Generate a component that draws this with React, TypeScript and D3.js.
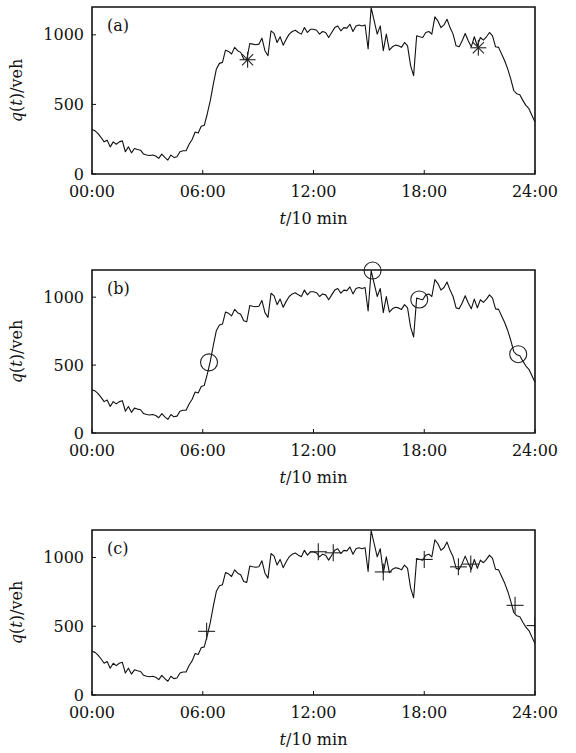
import * as d3 from "d3";

// traffic flow every 10 min (same series in all three panels)
const flow = [
  319, 310, 290, 262, 231, 243, 195, 231, 214, 231, 238, 160, 195, 152, 183, 176, 171, 143, 136,
  133, 136, 129, 112, 143, 119, 100, 136, 119, 124, 160, 167, 167, 214, 248, 302, 295, 343, 350, 433,
  529, 648, 755, 795, 802, 890, 881, 862, 910, 886,
  874, 826, 819, 938, 933, 929, 933, 976, 886, 850, 1029, 1010, 945, 986, 926, 969, 1005, 1024, 1033, 1017,
  1005, 1052, 1017, 1040, 1040, 1033, 1005, 1024, 1017, 981, 1017, 1052, 1064, 1029, 1052, 1048, 1076, 1024, 1064, 1071,
  1064, 1071, 898, 1195, 1100, 1005, 1064, 886, 1005, 890,
  914, 926, 921, 910, 945, 921, 779, 707, 993, 986, 981, 1017, 1024, 1005, 1129, 1100, 1052, 1071, 1112, 1052,
  1005, 921, 914, 957, 1010, 957, 914, 986, 921, 981, 962, 986, 1017, 993, 914, 910, 862, 814, 755, 683,
  600, 576, 569, 529, 493, 469, 421, 374,
];

const timeTicks = [0, 6, 12, 18, 24];
const flowTicks = [0, 500, 1000];

// marked points (hours, veh)
const starT = [8.43, 20.93];
const starV = [821, 907];
const circT = [6.34, 15.2, 17.73, 23.09];
const circV = [520, 1196, 983, 580];
const plusT = [6.21, 12.26, 13.07, 15.78, 18.0, 19.85, 20.52, 22.92, 24];
const plusV = [463, 1042, 1034, 895, 986, 932, 952, 652, 505];

const panelLabels = ["(a)", "(b)", "(c)"];

const W = 576;
const H = 753;
const left = 92;
const right = 535;
const tops = [7, 270, 530];
const heights = [167, 163, 165];
const font = "DejaVu Serif";
const fs = 16;

const fmtTime = (h: number) => d3.format("02d")(h) + ":00";

function Marker({ kind, cx, cy }: { kind: string; cx: number; cy: number }) {
  const s = { stroke: "#222", strokeWidth: 1.1, fill: "none" };
  if (kind === "circle") return <circle cx={cx} cy={cy} r={8.5} {...s} />;
  if (kind === "plus") {
    const r = 8.5;
    return (
      <g {...s}>
        <line x1={cx - r} x2={cx + r} y1={cy} y2={cy} />
        <line x1={cx} x2={cx} y1={cy - r} y2={cy + r} />
      </g>
    );
  }
  const r = 8;
  const d = r * 0.7;
  return (
    <g {...s}>
      <line x1={cx - r} x2={cx + r} y1={cy} y2={cy} />
      <line x1={cx} x2={cx} y1={cy - r} y2={cy + r} />
      <line x1={cx - d} x2={cx + d} y1={cy - d} y2={cy + d} />
      <line x1={cx - d} x2={cx + d} y1={cy + d} y2={cy - d} />
    </g>
  );
}

function Panel({ idx, kind, ts, vs }: { idx: number; kind: string; ts: number[]; vs: number[] }) {
  const top = tops[idx];
  const h = heights[idx];
  const bottom = top + h;
  const x = d3.scaleLinear().domain([0, 24]).range([left, right]);
  const y = d3.scaleLinear().domain([0, 1200]).range([bottom, top]);
  const line = d3
    .line<number>()
    .x((_, k) => x((k / (flow.length - 1)) * 24))
    .y((d) => y(d));
  const clipId = "clip" + idx;

  return (
    <g>
      <clipPath id={clipId}>
        <rect x={left} y={top - 20} width={right - left} height={h + 40} />
      </clipPath>
      <path d={line(flow) || ""} fill="none" stroke="#111" strokeWidth={1.1} strokeLinejoin="round" />
      <g clipPath={`url(#${clipId})`}>
        {ts.map((t, k) => (
          <Marker key={k} kind={kind} cx={x(t)} cy={y(vs[k])} />
        ))}
      </g>
      {/* box */}
      <path
        d={`M${left},${top}H${right}V${bottom}H${left}Z`}
        fill="none"
        stroke="#111"
        strokeWidth={1.6}
      />
      {timeTicks.map((t) => (
        <g key={t}>
          <line x1={x(t)} x2={x(t)} y1={bottom} y2={bottom - 4} stroke="#111" strokeWidth={1} />
          <text x={x(t)} y={bottom + 23} textAnchor="middle" fontFamily={font} fontSize={fs} fill="#111">
            {fmtTime(t)}
          </text>
        </g>
      ))}
      {flowTicks.map((v) => (
        <g key={v}>
          <line x1={left} x2={left + 4} y1={y(v)} y2={y(v)} stroke="#111" strokeWidth={1} />
          <text x={left - 8} y={y(v) + 5.5} textAnchor="end" fontFamily={font} fontSize={fs} fill="#111">
            {v}
          </text>
        </g>
      ))}
      <text x={left + 15} y={top + 24} fontFamily={font} fontSize={fs} fill="#111">
        {panelLabels[idx]}
      </text>
      <text
        transform={`translate(22,${top + h / 2}) rotate(-90)`}
        textAnchor="middle"
        fontFamily={font}
        fontSize={fs}
        fill="#111"
      >
        <tspan fontStyle="italic">q</tspan>(<tspan fontStyle="italic">t</tspan>)/veh
      </text>
      <text x={(left + right) / 2} y={bottom + 50} textAnchor="middle" fontFamily={font} fontSize={fs} fill="#111">
        <tspan fontStyle="italic">t</tspan>/10 min
      </text>
    </g>
  );
}

export default function App() {
  return (
    <svg width={W} height={H} style={{ position: "absolute", left: 0, top: 0, background: "#fff" }}>
      <rect width={W} height={H} fill="#fff" />
      <Panel idx={0} kind="star" ts={starT} vs={starV} />
      <Panel idx={1} kind="circle" ts={circT} vs={circV} />
      <Panel idx={2} kind="plus" ts={plusT} vs={plusV} />
    </svg>
  );
}
